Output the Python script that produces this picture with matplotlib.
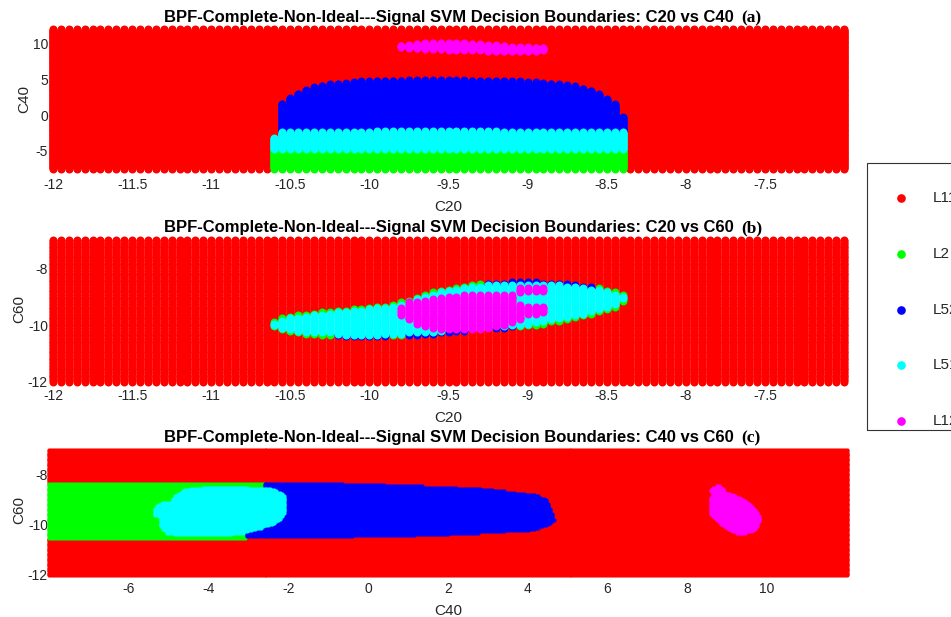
import numpy as np
import matplotlib
matplotlib.use("Agg")
import matplotlib.pyplot as plt
from matplotlib.path import Path
from matplotlib.patches import Rectangle
from matplotlib.lines import Line2D
import matplotlib.transforms as mtransforms

plt.rcParams['font.family'] = ['Liberation Sans', 'DejaVu Sans']
plt.rcParams['axes.unicode_minus'] = False

W, H, DPI = 951, 617, 100

# ---------------- classes ----------------
class_names = ['L11', 'L2', 'L52', 'L51', 'L12']
class_colors = ['#ff0000', '#00ff00', '#0000ff', '#00ffff', '#ff00ff']

title_base = 'BPF-Complete-Non-Ideal---Signal SVM Decision Boundaries: '
panel_pairs = ['C20 vs C40', 'C20 vs C60', 'C40 vs C60']
panel_tags = ['(a)', '(b)', '(c)']

# ---------------- panel (a): C20 vs C40 ----------------
a_c20_grid = (-12.0, -7.0, 0.05)
a_c40_grid = (-7.5, 12.0, 0.1)
a_inner_cols = (-10.6, -8.4)          # columns with non-L11 classes
a_green_top = -4.8                     # green rows: C40 <= this
a_cyan_bot = -4.7
a_cyan_top = [-3.2, -2.4, -2.4, -2.4, -2.4, -2.4, -2.4, -2.4, -2.4, -2.4,
              -2.35, -2.35, -2.35, -2.3, -2.3, -2.3, -2.3, -2.3, -2.3, -2.3,
              -2.3, -2.3, -2.3, -2.3, -2.3, -2.3, -2.3, -2.3, -2.3, -2.35,
              -2.35, -2.35, -2.35, -2.4, -2.4, -2.4, -2.4, -2.4, -2.4, -2.4,
              -2.4, -2.4, -2.4, -2.4, -2.4]
a_blue_top = [np.nan, 1.6, 2.4, 3.05, 3.5, 3.9, 4.1, 4.3, 4.45, 4.55,
              4.65, 4.7, 4.75, 4.8, 4.8, 4.85, 4.85, 4.9, 4.9, 4.9,
              4.9, 4.9, 4.9, 4.9, 4.9, 4.85, 4.85, 4.85, 4.8, 4.8,
              4.75, 4.7, 4.65, 4.6, 4.55, 4.45, 4.35, 4.2, 4.0, 3.7,
              3.4, 2.95, 2.25, 1.5, -0.3]
a_mag_cols = [-9.8, -9.75, -9.7, -9.65, -9.6, -9.55, -9.5, -9.45, -9.4, -9.35,
              -9.3, -9.25, -9.2, -9.15, -9.1, -9.05, -9.0, -8.95, -8.9]
a_mag_lo = [9.5, 9.35, 9.25, 9.15, 9.15, 9.15, 9.05, 9.05, 9.05, 9.05,
            9.05, 8.9, 8.9, 8.9, 8.9, 8.9, 8.9, 8.9, 9.05]
a_mag_hi = [9.7, 9.8, 9.95, 10.0, 10.0, 10.0, 10.0, 10.0, 10.0, 9.95,
            9.95, 9.85, 9.85, 9.7, 9.55, 9.55, 9.5, 9.4, 9.4]

# ---------------- panel (b): C20 vs C60 ----------------
b_c20_grid = (-12.0, -7.0, 0.05)
b_c60_grid = (-12.0, -7.0, 0.05)
b_inner_cols = (-10.6, -8.4)
b_top = [-9.88, -9.75, -9.69, -9.64, -9.61, -9.59, -9.55, -9.53, -9.49, -9.46,
         -9.44, -9.41, -9.38, -9.34, -9.32, -9.26, -9.20, -9.12, -9.02, -8.94,
         -8.85, -8.77, -8.71, -8.67, -8.61, -8.58, -8.55, -8.53, -8.52, -8.51,
         -8.50, -8.50, -8.50, -8.50, -8.51, -8.52, -8.53, -8.55, -8.58, -8.61,
         -8.65, -8.69, -8.77, -8.85, -8.91]
b_bot = [-10.07, -10.18, -10.24, -10.27, -10.31, -10.33, -10.35, -10.36, -10.39, -10.41,
         -10.41, -10.41, -10.41, -10.41, -10.40, -10.39, -10.39, -10.36, -10.35, -10.33,
         -10.31, -10.28, -10.25, -10.22, -10.20, -10.18, -10.15, -10.14, -10.13, -10.12,
         -10.09, -10.07, -10.04, -10.00, -9.95, -9.89, -9.86, -9.80, -9.74, -9.68,
         -9.60, -9.53, -9.45, -9.35, -9.15]
# class of the thin rim at the bottom / top of the region (g = L2, b = L52)
b_bot_rim = 'ggggggggbbbbbbbggbbbbbbbbbbbbbbgggggggggggggg'
b_top_rim = 'gggggggggggggggggggggggggggbbbbbbbbbbbbbbgggg'
# magenta (L12) segments: (C20 column, C60 low, C60 high)
b_mag_segments = [(-9.8, -9.68, -9.38), (-9.75, -9.82, -9.20), (-9.7, -9.95, -9.20),
                  (-9.65, -10.05, -9.14), (-9.6, -10.12, -9.08), (-9.55, -10.16, -9.02),
                  (-9.5, -10.18, -8.99), (-9.45, -10.18, -8.97), (-9.4, -10.16, -8.93),
                  (-9.35, -10.15, -8.91), (-9.3, -10.15, -8.91), (-9.25, -10.13, -8.91),
                  (-9.2, -10.09, -8.93), (-9.15, -10.01, -8.93), (-9.1, -9.92, -8.93),
                  (-9.05, -9.81, -9.30), (-9.05, -8.85, -8.67),
                  (-9.0, -9.62, -9.32), (-9.0, -8.80, -8.67),
                  (-8.95, -9.62, -9.32), (-8.95, -8.80, -8.67),
                  (-8.9, -9.55, -9.35), (-8.9, -8.80, -8.70)]

# ---------------- panel (c): C40 vs C60 ----------------
c_c40_grid = (-8.0, 12.0, 0.05)
c_c60_grid = (-12.0, -7.0, 0.05)
c_green_poly = [(-8.2, -8.31), (-2.6, -8.31), (-3.1, -10.52), (-8.2, -10.52)]
c_blue_poly = [(-2.6, -8.33), (-1.0, -8.33), (1.2, -8.44), (2.7, -8.53), (3.55, -8.67),
               (4.2, -8.8), (4.47, -9.0), (4.6, -9.5), (4.66, -9.8), (4.5, -10.0),
               (4.05, -10.2), (2.8, -10.3), (1.2, -10.4), (-1.0, -10.47), (-3.1, -10.5)]
c_cyan_poly = [(-5.35, -9.3), (-5.2, -9.1), (-4.95, -9.05), (-4.85, -8.8), (-4.6, -8.58),
               (-4.2, -8.5), (-3.0, -8.5), (-2.4, -8.55), (-2.15, -8.72), (-2.05, -8.95),
               (-2.05, -9.3), (-2.15, -9.7), (-2.3, -9.9), (-2.8, -10.15), (-3.2, -10.33),
               (-4.0, -10.4), (-4.6, -10.4), (-5.05, -10.32), (-5.22, -10.05), (-5.25, -9.7),
               (-5.4, -9.55)]
c_mag_poly = [(8.55, -9.27), (8.57, -8.95), (8.63, -8.8), (8.58, -8.62), (8.66, -8.47),
              (8.78, -8.42), (8.9, -8.5), (8.93, -8.68), (9.15, -8.78), (9.45, -9.0),
              (9.7, -9.35), (9.82, -9.7), (9.78, -10.05), (9.6, -10.28), (9.3, -10.33),
              (9.05, -10.2), (8.8, -9.9), (8.6, -9.6)]


def grid(rng):
    lo, hi, st = rng
    n = int(round((hi - lo) / st)) + 1
    return np.round(lo + st * np.arange(n), 3)


def cols_between(lo, hi, step=0.05):
    n = int(round((hi - lo) / step)) + 1
    return np.round(lo + step * np.arange(n), 3)


eps = 1e-6

# labels panel (a)
ax_x = grid(a_c20_grid); ax_y = grid(a_c40_grid)
XA, YA = np.meshgrid(ax_x, ax_y)
LA = np.zeros(XA.shape, int)
for i, c in enumerate(cols_between(*a_inner_cols)):
    col = np.isclose(XA, c)
    LA[col & (YA <= a_green_top + eps)] = 1
    LA[col & (YA >= a_cyan_bot - eps) & (YA <= a_cyan_top[i] + eps)] = 3
    if not np.isnan(a_blue_top[i]):
        LA[col & (YA > a_cyan_top[i] + eps) & (YA <= a_blue_top[i] + eps)] = 2
for c, lo, hi in zip(a_mag_cols, a_mag_lo, a_mag_hi):
    LA[np.isclose(XA, c) & (YA >= lo - eps) & (YA <= hi + eps)] = 4

# labels panel (b)
bx = grid(b_c20_grid); by = grid(b_c60_grid)
XB, YB = np.meshgrid(bx, by)
LB = np.zeros(XB.shape, int)
for i, c in enumerate(cols_between(*b_inner_cols)):
    col = np.isclose(XB, c)
    inside = col & (YB >= b_bot[i] - eps) & (YB <= b_top[i] + eps)
    core = col & (YB >= b_bot[i] + 0.06) & (YB <= b_top[i] - 0.06)
    mid = 0.5 * (b_bot[i] + b_top[i])
    rim = inside & ~core
    LB[rim & (YB < mid)] = 1 if b_bot_rim[i] == 'g' else 2
    LB[rim & (YB >= mid)] = 1 if b_top_rim[i] == 'g' else 2
    LB[core] = 3
for c, lo, hi in b_mag_segments:
    LB[np.isclose(XB, c) & (YB >= lo - eps) & (YB <= hi + eps)] = 4

# labels panel (c)
cx = grid(c_c40_grid); cy = grid(c_c60_grid)
XC, YC = np.meshgrid(cx, cy)
LC = np.zeros(XC.shape, int)
pts = np.column_stack([XC.ravel(), YC.ravel()])
for poly, k in [(c_green_poly, 1), (c_blue_poly, 2), (c_cyan_poly, 3), (c_mag_poly, 4)]:
    m = Path(poly).contains_points(pts).reshape(XC.shape)
    LC[m] = k

# ---------------- figure ----------------
fig = plt.figure(figsize=(W / DPI, H / DPI), dpi=DPI)
fig.patch.set_facecolor('white')


def px_axes(left, top, right, bottom):
    return fig.add_axes([left / W, 1 - bottom / H, (right - left) / W, (bottom - top) / H])


axes = [px_axes(50, 25, 847, 172.3), px_axes(50, 235, 847, 383.3), px_axes(50, 445, 847, 576)]
data = [(XA, YA, LA, 33), (XB, YB, LB, 33), (XC, YC, LC, 9)]
xlims = [(-12.019, -6.981), (-12.019, -6.981), (-7.98, 12.01)]
ylims = [(-8.0, 12.57), (-12.056, -6.825), (-12.04, -6.8)]
xticks = [np.arange(-12, -7.4, 0.5), np.arange(-12, -7.4, 0.5), np.arange(-6, 10.1, 2)]
yticks = [[-5, 0, 5, 10], [-12, -10, -8], [-12, -10, -8]]
xlabels = ['C20', 'C20', 'C40']
ylabels = ['C40', 'C60', 'C60']

for i, ax in enumerate(axes):
    X, Y, L, s = data[i]
    for k in range(5):
        m = L == k
        ax.scatter(X[m], Y[m], s=s, c=class_colors[k], linewidths=0,
                   clip_on=False, label=class_names[k], zorder=2 + k)
    ax.set_xlim(*xlims[i]); ax.set_ylim(*ylims[i])
    ax.set_xticks(xticks[i])
    ax.set_xticklabels(['%g' % v for v in xticks[i]])
    ax.set_yticks(yticks[i])
    ax.set_yticklabels(['%g' % v for v in yticks[i]])
    for sp in ax.spines.values():
        sp.set_visible(False)
    ax.tick_params(length=0, labelsize=10, colors='#262626')
    ax.tick_params(axis='y', pad=1.5)
    ax.tick_params(axis='x', pad=4)
    ax.set_xlabel(xlabels[i], fontsize=11, color='#262626', labelpad=6)
    ax.set_ylabel(ylabels[i], fontsize=11, color='#262626', labelpad=1)
    ax.set_title(title_base + panel_pairs[i], fontsize=12, fontweight='bold', pad=1.7)
    tr = mtransforms.offset_copy(ax.transAxes, fig=fig, y=1.7, units='points')
    ax.text((741.7 - 50) / 797, 1.0, panel_tags[i], transform=tr, va='baseline', ha='left',
            fontsize=12.5, fontweight='bold', family=['Liberation Serif', 'DejaVu Serif'])

# ---------------- legend (right, partly outside the figure as in the original) ----------------
leg_left, leg_top, leg_bottom = 867, 163, 430
fig.add_artist(Rectangle((leg_left / W, 1 - leg_bottom / H), 200 / W, (leg_bottom - leg_top) / H,
                         transform=fig.transFigure, fill=False, edgecolor='#333333', lw=0.8))
row_y = [198, 254, 310, 365, 421]
for k in range(5):
    fig.add_artist(Line2D([901 / W], [1 - row_y[k] / H], marker='o', markersize=5.2,
                          color=class_colors[k], linestyle='none', transform=fig.transFigure))
    fig.text(933 / W, 1 - row_y[k] / H, class_names[k], va='center', ha='left',
             fontsize=11, color='#262626')

fig.savefig('out.png', dpi=DPI)
